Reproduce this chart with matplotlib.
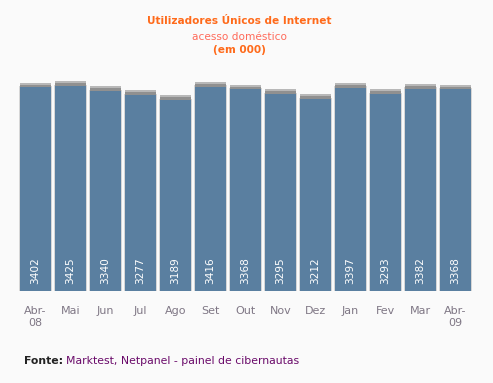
import matplotlib
matplotlib.use('Agg')
import matplotlib.pyplot as plt

months = ['Abr-\n08', 'Mai', 'Jun', 'Jul', 'Ago', 'Set', 'Out', 'Nov', 'Dez',
          'Jan', 'Fev', 'Mar', 'Abr-\n09']
users = [3402, 3425, 3340, 3277, 3189, 3416, 3368, 3295, 3212, 3397, 3293, 3382, 3368]

bg = '#fafafa'
bar_color = '#5a7fa0'
orange = '#ff6a1a'

fig = plt.figure(figsize=(4.93, 3.83), dpi=100, facecolor=bg)
# axes placed in pixels: left 18, right 473, bottom at 291 from top, top at 70
ax = fig.add_axes([18 / 493, 92 / 383, 455 / 493, 221 / 383])
ax.set_facecolor(bg)

x = list(range(len(months)))
# shadow behind the bars
ax.bar(x, [v + 20 for v in users], width=0.97, color='#d6d6d6', zorder=1)
ax.bar(x, [v + 80 for v in users], width=0.9, color='#b8b8b8', zorder=2)
ax.bar(x, [v + 45 for v in users], width=0.9, color='#909090', zorder=2)
ax.bar(x, users, width=0.9, color=bar_color, zorder=3)

for i, v in enumerate(users):
    ax.text(i, 120, str(v), rotation=90, ha='center', va='bottom',
            color='white', fontsize=7.6, zorder=4)

ax.set_xlim(-0.5, 12.5)
ax.set_ylim(0, 3692)
ax.set_xticks(x)
ax.set_xticklabels(months, color='#7f7785', fontsize=8, linespacing=1.25)
ax.tick_params(axis='x', length=0, pad=11)
ax.set_yticks([])
for s in ax.spines.values():
    s.set_visible(False)

# title block, pixel coordinates
fig.text(239, 383 - 21, 'Utilizadores Únicos de Internet', transform=None,
         ha='center', va='center', color=orange, fontsize=7.6, fontweight='bold')
fig.text(239, 383 - 37, 'acesso doméstico', transform=None,
         ha='center', va='center', color='#ff6a5a', fontsize=7.6)
fig.text(239, 383 - 50, '(em 000)', transform=None,
         ha='center', va='center', color=orange, fontsize=7.6, fontweight='bold')

fig.text(24, 383 - 361, 'Fonte:', transform=None, ha='left', va='center',
         color='#222222', fontsize=7.8, fontweight='bold')
fig.text(66, 383 - 361, 'Marktest, Netpanel - painel de cibernautas', transform=None,
         ha='left', va='center', color='#6a0a6a', fontsize=7.8)

fig.savefig('out.png', dpi=100, facecolor=bg)
